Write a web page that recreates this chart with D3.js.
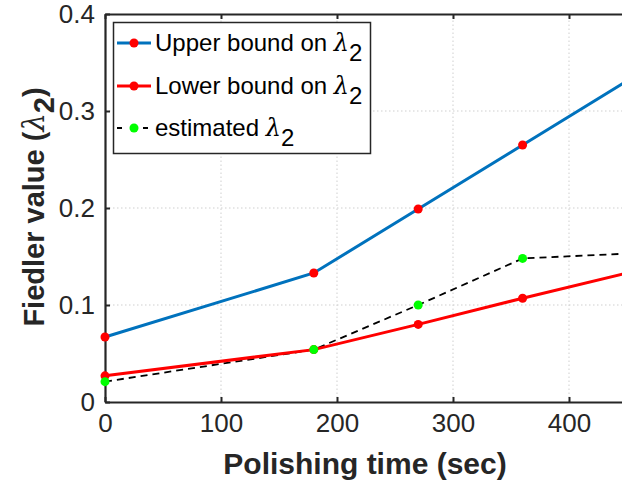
<!DOCTYPE html>
<html>
<head>
<meta charset="utf-8">
<script src="https://cdn.jsdelivr.net/npm/d3@7"></script>
<style>
  body { margin: 0; background: #fff; }
  svg { display: block; font-family: "Liberation Sans", Arial, sans-serif; }
</style>
</head>
<body>
<script>
// data
const times = [0, 180, 270, 360, 450];
const upperBound = [0.067, 0.133, 0.199, 0.265, 0.331];
const lowerBound = [0.027, 0.054, 0.080, 0.107, 0.133];
const estimated = [0.021, 0.054, 0.100, 0.148, 0.153];
const xTicks = [0, 100, 200, 300, 400];
const yTicks = [0, 0.1, 0.2, 0.3, 0.4];

const width = 622, height = 484;
const margin = { top: 14, right: -5, bottom: 82, left: 105 };

const svg = d3.select("body").append("svg")
  .attr("width", width)
  .attr("height", height);

const x = d3.scaleLinear().domain([0, 450]).range([margin.left, width - margin.right]);
const y = d3.scaleLinear().domain([0, 0.4]).range([height - margin.bottom, margin.top]);

// gridlines
svg.append("g").selectAll("line").data(xTicks.slice(1)).join("line")
  .attr("x1", d => x(d)).attr("x2", d => x(d))
  .attr("y1", y(0)).attr("y2", y(0.4))
  .attr("stroke", "#cfcfcf").attr("stroke-width", 1).attr("stroke-dasharray", "1.5,2.5");
svg.append("g").selectAll("line").data(yTicks.slice(1, -1)).join("line")
  .attr("x1", x(0)).attr("x2", width)
  .attr("y1", d => y(d)).attr("y2", d => y(d))
  .attr("stroke", "#cfcfcf").attr("stroke-width", 1).attr("stroke-dasharray", "1.5,2.5");

// axes
const xAxis = svg.append("g")
  .attr("transform", `translate(0,${y(0)})`)
  .call(d3.axisBottom(x).tickValues(xTicks).tickSize(-5).tickPadding(14).tickSizeOuter(0));
const xTop = svg.append("g")
  .attr("transform", `translate(0,${y(0.4)})`)
  .call(d3.axisTop(x).tickValues(xTicks).tickSize(-5).tickFormat("").tickSizeOuter(0));
const yAxis = svg.append("g")
  .attr("transform", `translate(${x(0)},0)`)
  .call(d3.axisLeft(y).tickValues(yTicks).tickSize(-5).tickPadding(10).tickSizeOuter(0)
    .tickFormat(d => d === 0 ? "0" : d3.format(".1f")(d)));

[xAxis, xTop, yAxis].forEach(g => {
  g.select(".domain").attr("stroke", "#262626").attr("stroke-width", 2.2);
  g.selectAll(".tick line").attr("stroke", "#262626").attr("stroke-width", 2);
  g.selectAll(".tick text").attr("fill", "#262626").style("font-size", "26px")
    .style("font-family", "Liberation Sans, Arial, sans-serif");
});
xAxis.selectAll(".tick text").attr("dy", "0.6em");

// lines
const line = d3.line().x((d, i) => x(times[i])).y(d => y(d));

svg.append("path").datum(estimated)
  .attr("fill", "none").attr("stroke", "#000").attr("stroke-width", 1.8)
  .attr("stroke-dasharray", "7,5").attr("d", line);
svg.append("path").datum(upperBound)
  .attr("fill", "none").attr("stroke", "#0072BD").attr("stroke-width", 3).attr("d", line);
svg.append("path").datum(lowerBound)
  .attr("fill", "none").attr("stroke", "#FF0000").attr("stroke-width", 3).attr("d", line);

function dots(vals, color) {
  svg.append("g").selectAll("circle").data(vals).join("circle")
    .attr("cx", (d, i) => x(times[i])).attr("cy", d => y(d))
    .attr("r", 4.5).attr("fill", color);
}
dots(upperBound, "#FF0000");
dots(lowerBound, "#FF0000");
dots(estimated, "#00FF00");

// legend
const legend = svg.append("g");
legend.append("rect")
  .attr("x", 113.5).attr("y", 22.5).attr("width", 257).attr("height", 131)
  .attr("fill", "#fff").attr("stroke", "#262626").attr("stroke-width", 1.5);

const entries = [
  { label: "Upper bound on ", color: "#0072BD", marker: "#FF0000", dash: null, width: 3, yy: 43 },
  { label: "Lower bound on ", color: "#FF0000", marker: "#FF0000", dash: null, width: 3, yy: 86 },
  { label: "estimated ", color: "#000", marker: "#00FF00", dash: "7,5", width: 1.8, yy: 128 }
];
entries.forEach(e => {
  legend.append("line")
    .attr("x1", 117).attr("x2", 151).attr("y1", e.yy).attr("y2", e.yy)
    .attr("stroke", e.color).attr("stroke-width", e.width)
    .attr("stroke-dasharray", e.dash ? "5,8" : null);
  legend.append("circle").attr("cx", 134).attr("cy", e.yy).attr("r", 4.5).attr("fill", e.marker);
  const t = legend.append("text")
    .attr("x", 155).attr("y", e.yy).attr("dy", "0.35em")
    .attr("fill", "#000").style("font-size", "24px");
  t.append("tspan").text(e.label);
  t.append("tspan").text("λ").style("font-family", "DejaVu Serif, serif").style("font-style", "italic");
  t.append("tspan").text("2").attr("dy", "0.4em");
});

// axis labels
svg.append("text")
  .attr("x", 365).attr("y", 474)
  .attr("text-anchor", "middle")
  .attr("fill", "#262626")
  .style("font-size", "30px").style("font-weight", "bold")
  .text("Polishing time (sec)");

const yl = svg.append("text")
  .attr("transform", "translate(44,207) rotate(-90)")
  .attr("text-anchor", "middle")
  .attr("fill", "#262626")
  .style("font-size", "29px").style("font-weight", "bold");
yl.append("tspan").text("Fiedler value (");
yl.append("tspan").text("λ").style("font-family", "DejaVu Serif, serif").style("font-style", "italic").style("font-weight", "normal");
yl.append("tspan").text("2").attr("dy", "0.35em");
yl.append("tspan").text(")").attr("dy", "-0.35em");
</script>
</body>
</html>
